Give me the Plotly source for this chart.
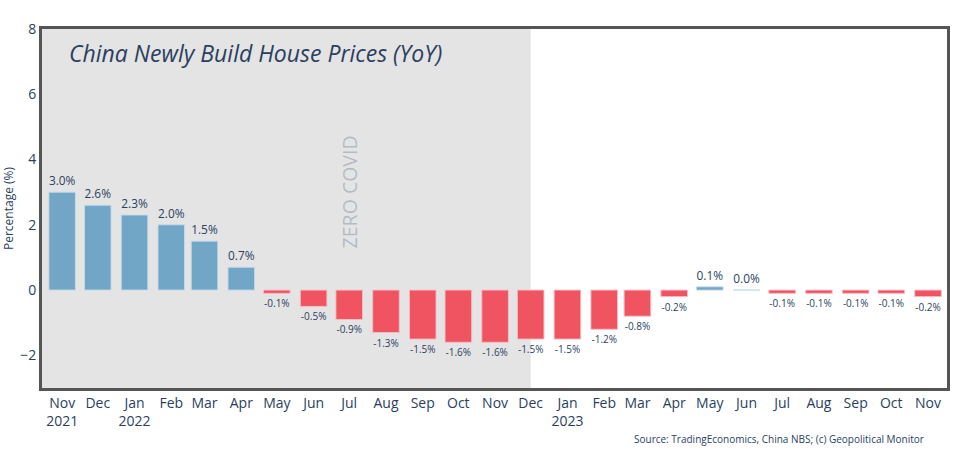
import plotly.graph_objects as go

months = ["2021-11-01", "2021-12-01", "2022-01-01", "2022-02-01", "2022-03-01", "2022-04-01",
          "2022-05-01", "2022-06-01", "2022-07-01", "2022-08-01", "2022-09-01", "2022-10-01",
          "2022-11-01", "2022-12-01", "2023-01-01", "2023-02-01", "2023-03-01", "2023-04-01",
          "2023-05-01", "2023-06-01", "2023-07-01", "2023-08-01", "2023-09-01", "2023-10-01",
          "2023-11-01"]
yoy = [3.0, 2.6, 2.3, 2.0, 1.5, 0.7,
       -0.1, -0.5, -0.9, -1.3, -1.5, -1.6,
       -1.6, -1.5, -1.5, -1.2, -0.8, -0.2,
       0.1, 0.0, -0.1, -0.1, -0.1, -0.1,
       -0.2]

zero_covid_end = "2022-12-01"
title_text = "China Newly Build House Prices (YoY)"
source_text = "Source: TradingEconomics, China NBS; (c) Geopolitical Monitor"

BLUE = "#72a6c6"
RED = "#ef5460"
TXT = "#2a3f5f"

colors = [BLUE if v >= 0 else RED for v in yoy]
line_colors = ["rgba(200,220,235,0.9)" if v >= 0 else "rgba(245,190,200,0.9)" for v in yoy]
sizes = [12 if v >= 0 else 10 for v in yoy]
labels = [f"{v:.1f}%" for v in yoy]

fig = go.Figure()
fig.add_trace(go.Bar(
    x=months, y=yoy, text=labels, textposition="outside",
    textfont=dict(size=sizes, color=TXT, family="Open Sans"),
    marker=dict(color=colors, line=dict(color=line_colors, width=1)),
    cliponaxis=False, showlegend=False,
))

fig.add_shape(type="rect", xref="x", yref="paper", x0="2021-10-15", x1=zero_covid_end,
              y0=0, y1=1, fillcolor="#e4e4e4", line=dict(width=0), layer="below")

fig.add_annotation(x="2022-07-01", y=3, xref="x", yref="y", text="ZERO COVID",
                   textangle=-90, showarrow=False,
                   font=dict(size=19.5, color="rgba(60,85,125,0.3)", family="Open Sans"))
fig.add_annotation(x=0.028, y=0.932, xref="paper", yref="paper", text=f"<i>{title_text}</i>",
                   xanchor="left", yanchor="middle", showarrow=False,
                   font=dict(size=23, color=TXT, family="Open Sans"))
fig.add_annotation(x=0.977, y=-0.142, xref="paper", yref="paper", text=source_text,
                   xanchor="right", yanchor="middle", showarrow=False,
                   font=dict(size=10, color=TXT, family="Open Sans"))

fig.update_layout(
    width=970, height=466,
    margin=dict(l=42, r=23, t=29, b=78),
    plot_bgcolor="white", paper_bgcolor="white",
    font=dict(family="Open Sans", color=TXT),
    bargap=0.2,
)
fig.update_xaxes(type="date", range=["2021-10-15", "2023-11-17"], dtick="M1",
                 tickformat="%b\n%Y", tickangle=0, automargin=False,
                 showgrid=False, zeroline=False, ticks="",
                 showline=True, linecolor="#555555", linewidth=3, mirror=True,
                 tickfont=dict(size=14, color=TXT))
fig.update_yaxes(range=[-3, 8], dtick=2, showgrid=False, zeroline=False, ticks="",
                 automargin=False,
                 showline=True, linecolor="#555555", linewidth=3, mirror=True,
                 tickfont=dict(size=14, color=TXT),
                 title=dict(text="Percentage (%)", font=dict(size=12, color=TXT)))

fig.write_html("out.html")
